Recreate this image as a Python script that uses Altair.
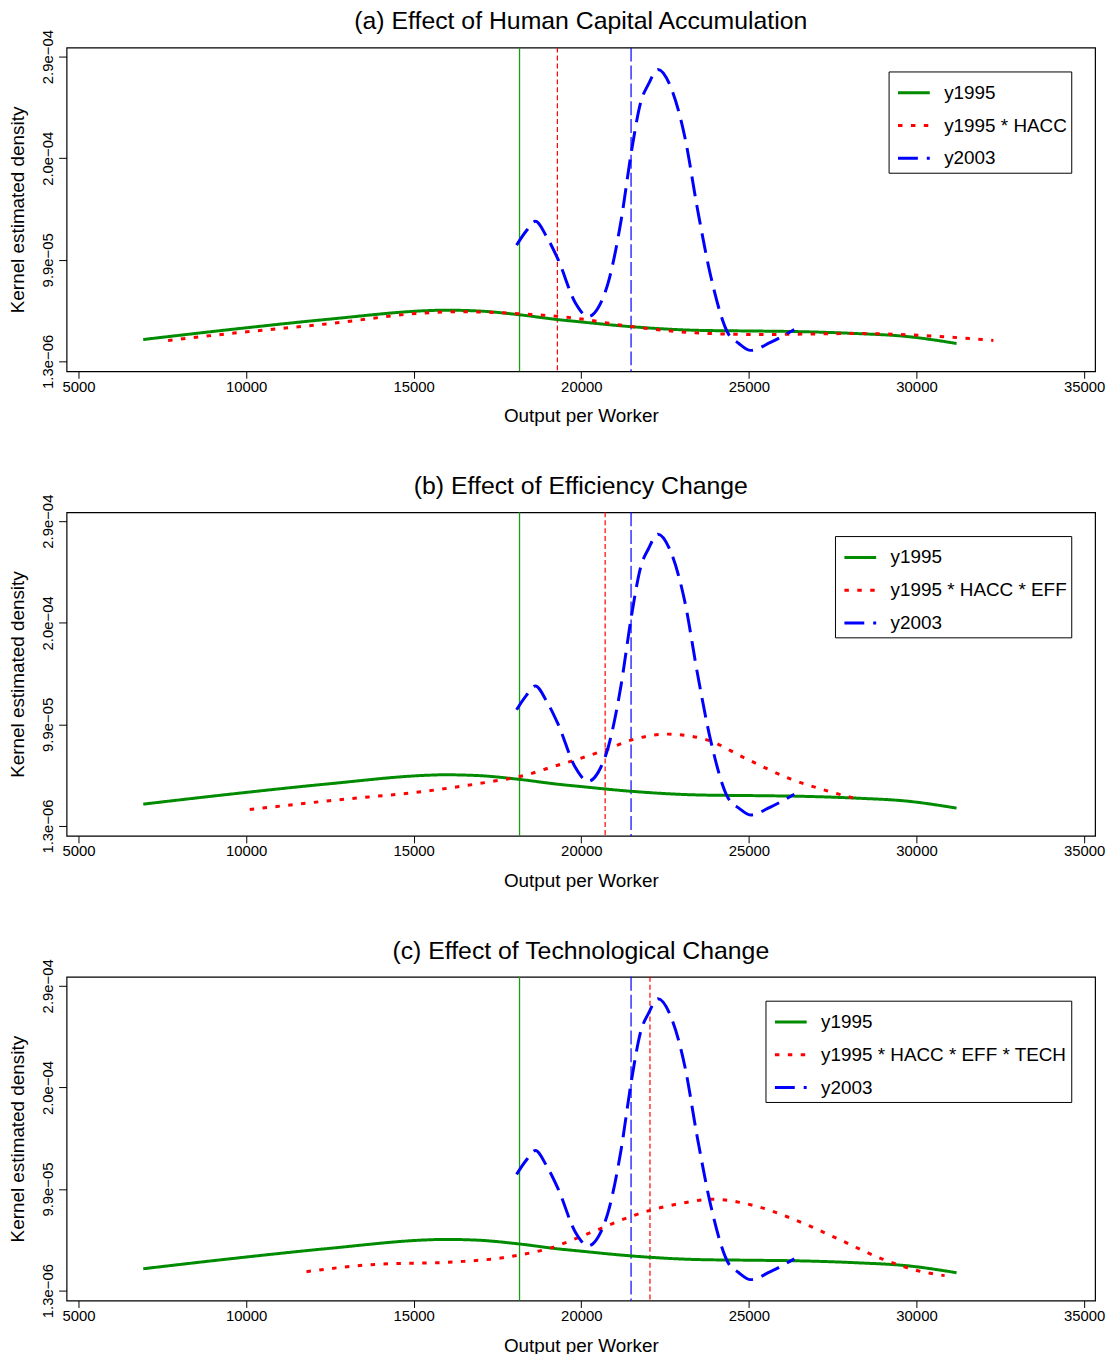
import altair as alt
import pandas as pd

# ---------------- data ----------------
green_x = [6931, 9514, 12484, 15454, 15900, 16939, 18127, 19315, 19909, 21484,
           23473, 25255, 26443, 28225, 29710, 31195]
green_y = [22.2e-6, 31.7e-6, 41.7e-6, 49.9e-6, 50.3e-6, 49.5e-6, 46.0e-6, 41.2e-6,
           39.3e-6, 34.5e-6, 31.0e-6, 30.3e-6, 29.8e-6, 27.9e-6, 25.1e-6, 18.4e-6]

blue_x = [18068, 18350, 18632, 18959, 19315, 19820, 20206, 20503, 20800, 21187,
          21484, 21781, 22000, 22286, 22672, 23088, 23473, 23860, 24364, 24700,
          25048, 25642, 26354]
blue_y = [112.5e-6, 125.8e-6, 135.3e-6, 121.0e-6, 98.2e-6, 57.4e-6, 44.1e-6, 52.6e-6,
          76.4e-6, 136.2e-6, 199.9e-6, 250.2e-6, 266.4e-6, 280.6e-6, 263.5e-6,
          216.0e-6, 145.7e-6, 83.0e-6, 28.9e-6, 18.4e-6, 11.8e-6, 19.4e-6, 31.7e-6]

red_a_x = [7673, 9514, 12484, 15454, 16435, 18127, 19702, 21484, 23266, 25255,
           28225, 30215, 32294]
red_a_y = [21.3e-6, 27.9e-6, 37.4e-6, 47.9e-6, 48.8e-6, 46.9e-6, 43.1e-6, 34.6e-6,
           28.9e-6, 27.0e-6, 27.9e-6, 26.0e-6, 21.3e-6]

red_b_x = [10108, 12484, 15454, 17444, 18127, 19315, 19820, 20711, 21484, 22582,
           23770, 24869, 26236, 27424, 28315]
red_b_y = [17.0e-6, 25.5e-6, 35.0e-6, 44.5e-6, 48.3e-6, 59.7e-6, 64.5e-6, 74.0e-6,
           83.5e-6, 89.2e-6, 83.5e-6, 66.4e-6, 46.4e-6, 34.1e-6, 26.5e-6]

red_c_x = [11801, 13672, 16316, 17652, 18187, 18989, 20325, 21513, 22078, 22998,
           23919, 25107, 26325, 27661, 28968, 30037, 30839]
red_c_y = [19.4e-6, 26.0e-6, 28.9e-6, 32.7e-6, 35.5e-6, 41.2e-6, 57.4e-6, 72.6e-6,
           78.3e-6, 84.9e-6, 88.7e-6, 83.0e-6, 69.7e-6, 50.7e-6, 31.7e-6, 20.3e-6, 15.6e-6]

green_vline = 18157
blue_vline = 21484
red_vlines = [19286, 20711, 22048]

titles = ["(a) Effect of Human Capital Accumulation",
          "(b) Effect of Efficiency Change",
          "(c) Effect of Technological Change"]
red_labels = ["y1995 * HACC", "y1995 * HACC * EFF", "y1995 * HACC * EFF * TECH"]
green_label = "y1995"
blue_label = "y2003"

x_ticks = [5000, 10000, 15000, 20000, 25000, 30000, 35000]
y_ticks = [1.3e-6, 9.85e-5, 1.957e-4, 2.93e-4]
y_tick_labels = ["1.3e\u221206", "9.9e\u221205", "2.0e\u221204", "2.9e\u221204"]

x_domain = [4644, 35327]
y_domain = [-8.2e-6, 3.0155e-4]

FONT = "Liberation Sans"
GREEN, RED, BLUE = "#008B00", "#FF0000", "#0000FF"
VGREEN = "#1A991A"

label_expr = " : ".join(
    [f"abs(datum.value - {v}) < 1e-6 ? '{l}'" for v, l in zip(y_ticks, y_tick_labels)]
) + " : ''"


def panel(title, red_label, rx, ry, rv):
    domain = [green_label, red_label, blue_label]
    legend = alt.Legend(
        orient="top-right", offset=24, strokeColor="black", fillColor="white",
        padding=4, symbolOffset=4, labelFontSize=19, labelFont=FONT,
        labelColor="black", labelLimit=0, symbolType="stroke", symbolSize=1024,
        symbolStrokeWidth=3, labelOffset=13, rowPadding=5, cornerRadius=0,
    )
    color = alt.Color("s:N", title=None,
                      scale=alt.Scale(domain=domain, range=[GREEN, RED, BLUE]),
                      legend=legend)
    dash = alt.StrokeDash("s:N", title=None,
                          scale=alt.Scale(domain=domain,
                                          range=[[1, 0], [4.5, 8.5], [20, 9]]),
                          legend=legend)
    x = alt.X("x:Q", title="Output per Worker",
              scale=alt.Scale(domain=x_domain, nice=False, zero=False),
              axis=alt.Axis(values=x_ticks, format="d", grid=False, domain=False,
                            labelOverlap=False, labelBound=False, labelFlush=False,
                            tickSize=7, labelPadding=1, titlePadding=13))
    y = alt.Y("y:Q", title="Kernel estimated density",
              scale=alt.Scale(domain=y_domain, nice=False, zero=False),
              axis=alt.Axis(values=y_ticks, labelExpr=label_expr, grid=False,
                            domain=False, labelAngle=270, labelAlign="center",
                            labelBaseline="bottom", labelOverlap=False,
                            labelBound=False, labelFlush=False, tickSize=8,
                            labelPadding=3, titlePadding=13))

    def series(xs, ys, name):
        return pd.DataFrame({"x": xs, "y": ys, "s": name})

    layers = []
    vx = alt.X("x:Q", scale=alt.Scale(domain=x_domain, nice=False, zero=False))
    layers.append(
        alt.Chart(pd.DataFrame({"x": [green_vline]})).mark_rule(
            strokeWidth=1.3, stroke=VGREEN
        ).encode(x=vx)
    )
    layers.append(
        alt.Chart(pd.DataFrame({"x": [rv]})).mark_rule(
            strokeWidth=1.2, stroke=RED, strokeDash=[5, 3]
        ).encode(x=vx)
    )
    layers.append(
        alt.Chart(pd.DataFrame({"x": [blue_vline]})).mark_rule(
            strokeWidth=1.2, stroke=BLUE, strokeDash=[14, 4]
        ).encode(x=vx)
    )
    for xs, ys, name in [(green_x, green_y, green_label), (rx, ry, red_label),
                         (blue_x, blue_y, blue_label)]:
        layers.append(
            alt.Chart(series(xs, ys, name)).mark_line(
                strokeWidth=3, interpolate="monotone", strokeCap="butt"
            ).encode(x=x, y=y, color=color, strokeDash=dash)
        )
    return alt.layer(*layers).properties(
        width=1036, height=326,
        title=alt.TitleParams(title, fontSize=25, font=FONT, fontWeight="normal",
                              anchor="middle", baseline="alphabetic", offset=-25,
                              color="black"),
    )


panels = [panel(t, rl, rx, ry, rv) for t, rl, rx, ry, rv in
          zip(titles, red_labels, [red_a_x, red_b_x, red_c_x],
              [red_a_y, red_b_y, red_c_y], red_vlines)]

chart = alt.vconcat(*panels, spacing=47).resolve_scale(
    color="independent", strokeDash="independent"
).resolve_legend(
    color="independent", strokeDash="independent"
).properties(
    padding={"left": 0, "top": -4, "right": 0, "bottom": 0},
    background="white",
).configure_view(
    stroke="black", strokeWidth=1.2
).configure_axis(
    labelFont=FONT, titleFont=FONT, labelFontSize=15, titleFontSize=19,
    labelColor="black", titleColor="black", tickColor="black", tickWidth=1,
    titleFontWeight="normal"
)

chart.save("out.html", embed_options={"renderer": "svg", "actions": False})
